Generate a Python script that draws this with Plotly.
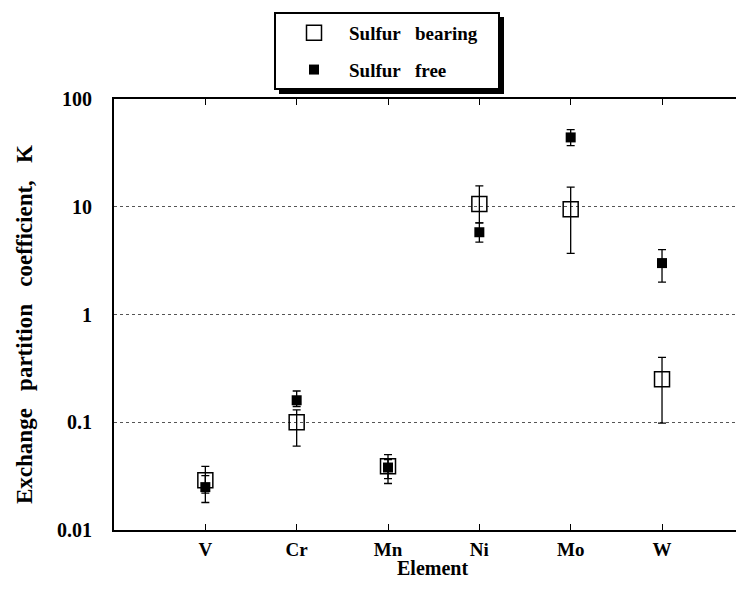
import plotly.graph_objects as go

elements = ["V", "Cr", "Mn", "Ni", "Mo", "W"]

# Sulfur bearing (open squares)
sb_val = [0.029, 0.10, 0.039, 10.6, 9.5, 0.25]
sb_hi = [0.039, 0.13, 0.050, 15.6, 15.2, 0.40]
sb_lo = [0.022, 0.060, 0.030, 7.1, 3.7, 0.098]

# Sulfur free (filled squares)
sf_val = [0.025, 0.16, 0.038, 5.8, 44.0, 3.0]
sf_hi = [0.032, 0.195, 0.045, 7.1, 52.0, 4.0]
sf_lo = [0.018, 0.14, 0.027, 4.7, 37.0, 2.0]

y_tickvals = [0.01, 0.1, 1, 10, 100]
y_ticktext = ["0.01", "0.1", "1", "10", "100"]

FONT = "Liberation Serif"
NB = "\u00a0"
Y_TITLE = "Exchange" + NB * 3 + "partition" + NB * 3 + "coefficient," + NB * 3 + "K"
X_TITLE = "Element"

# page body has an 8px margin, so the figure is sized to fit inside the window
OFF = 8
W, H = 744 - 2 * OFF, 590 - 2 * OFF
L, R, T = 114 - OFF, 0, 99 - OFF
B = H - (530 - OFF)
pw, ph = W - L - R, H - T - B


def px(x):  # window pixel -> paper x
    return (x - OFF - L) / pw


def py(y):  # window pixel -> paper y
    return (H - B - (y - OFF)) / ph


fig = go.Figure()

fig.add_trace(go.Scatter(
    x=elements, y=sb_val, mode="markers", name="Sulfur" + NB * 3 + "bearing",
    legendgroup="a",
    marker=dict(symbol="square-open", size=15, color="black", line=dict(width=1.5, color="black")),
    error_y=dict(type="data", symmetric=False,
                 array=[h - v for h, v in zip(sb_hi, sb_val)],
                 arrayminus=[v - l for l, v in zip(sb_lo, sb_val)],
                 color="black", thickness=1.3, width=4),
))
fig.add_trace(go.Scatter(
    x=elements, y=sf_val, mode="markers", name="Sulfur" + NB * 3 + "free",
    legendgroup="b",
    marker=dict(symbol="square", size=10, color="black"),
    error_y=dict(type="data", symmetric=False,
                 array=[h - v for h, v in zip(sf_hi, sf_val)],
                 arrayminus=[v - l for l, v in zip(sf_lo, sf_val)],
                 color="black", thickness=1.3, width=4),
))

# legend box with drop shadow
fig.add_shape(type="rect", xref="paper", yref="paper",
              x0=px(279), x1=px(504), y0=py(94), y1=py(17),
              fillcolor="black", line=dict(width=0))
fig.add_shape(type="rect", xref="paper", yref="paper",
              x0=px(275), x1=px(499), y0=py(89), y1=py(13),
              fillcolor="white", line=dict(width=2, color="black"))

# axis titles, placed like the reference
fig.add_annotation(
    text=Y_TITLE, textangle=-90, xref="paper", yref="paper",
    x=px(24), y=py(325), xanchor="center", yanchor="middle", showarrow=False,
    font=dict(family=FONT, size=23, weight="bold", color="black"),
)
fig.add_annotation(
    text=X_TITLE, xref="paper", yref="paper",
    x=px(432), y=py(568), xanchor="center", yanchor="middle", showarrow=False,
    font=dict(family=FONT, size=20, weight="bold", color="black"),
)

fig.update_layout(
    width=W, height=H,
    margin=dict(l=L, r=R, t=T, b=B, autoexpand=False),
    plot_bgcolor="white", paper_bgcolor="white",
    font=dict(family=FONT, color="black", size=18, weight="bold"),
    showlegend=True,
    legend=dict(
        x=px(279), y=py(14), xanchor="left", yanchor="top",
        bgcolor="rgba(0,0,0,0)", borderwidth=0,
        font=dict(family=FONT, size=19, weight="bold"),
        traceorder="grouped", tracegroupgap=9,
        itemwidth=60,
    ),
    xaxis=dict(
        type="category", range=[-1, 5.81], automargin=False,
        showline=True, linecolor="black", linewidth=2, mirror="ticks",
        ticks="inside", ticklen=6, tickcolor="black", tickwidth=1,
        showgrid=False, zeroline=False,
        tickfont=dict(family=FONT, size=19, weight="bold"),
        ticklabelstandoff=1,
    ),
    yaxis=dict(
        type="log", range=[-2, 2], automargin=False,
        tickvals=y_tickvals, ticktext=y_ticktext,
        showline=True, linecolor="black", linewidth=2,
        ticks="", showgrid=True, gridcolor="#555", griddash="dot", gridwidth=1,
        zeroline=False,
        tickfont=dict(family=FONT, size=20, weight="bold"),
        ticklabelstandoff=16,
    ),
)

fig.write_html("out.html")
